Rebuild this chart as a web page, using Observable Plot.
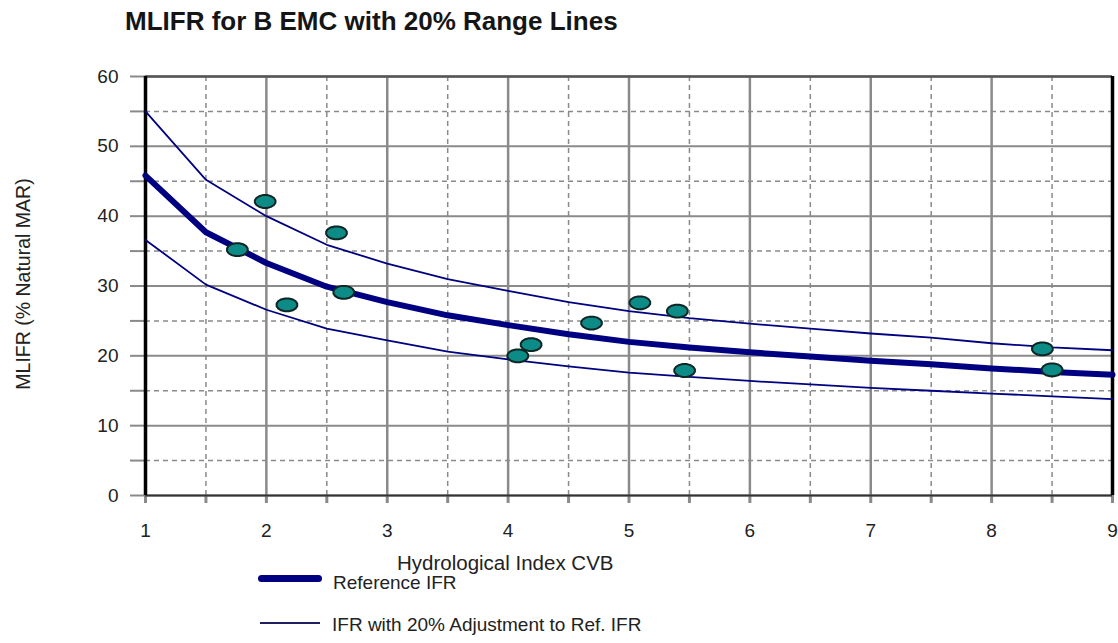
<!DOCTYPE html>
<html>
<head>
<meta charset="utf-8">
<script src="https://cdn.jsdelivr.net/npm/d3@7"></script>
<script src="https://cdn.jsdelivr.net/npm/@observablehq/plot@0.6"></script>
<style>
  body { margin: 0; background: #fff; }
  #wrap { position: relative; width: 1118px; height: 643px; overflow: hidden;
          font-family: "Liberation Sans", Arial, sans-serif; color: #222; }
  #chart { position: absolute; left: 0; top: 0; }
  #chart svg { display: block; }
  .abs { position: absolute; white-space: nowrap; }
  #title { left: 125px; top: 8px; font-size: 26px; line-height: 26px; font-weight: bold; color: #151515; }
  #xtitle { left: 397px; top: 553px; font-size: 20.5px; line-height: 19px; }
  #ytitle { left: 23px; top: 284px; font-size: 19.5px; line-height: 20px;
            transform: translate(-50%, -50%) rotate(-90deg); }
  .swatch { position: absolute; left: 258px; width: 64px; background: #000080; }
  #sw1 { top: 575px; height: 7px; border-radius: 3.5px; }
  #sw2 { top: 622px; height: 2px; left: 260px; width: 60px; background: #202060; }
  #leg1 { left: 333px; top: 574px; font-size: 19px; line-height: 17px; }
  #leg2 { left: 332px; top: 616px; font-size: 19px; line-height: 17px; }
</style>
</head>
<body>
<div id="wrap">
  <div id="chart"></div>
  <div class="abs" id="title">MLIFR for B EMC with 20% Range Lines</div>
  <div class="abs" id="xtitle">Hydrological Index CVB</div>
  <div class="abs" id="ytitle">MLIFR (% Natural MAR)</div>
  <div class="swatch" id="sw1"></div>
  <div class="abs" id="leg1">Reference IFR</div>
  <div class="swatch" id="sw2"></div>
  <div class="abs" id="leg2">IFR with 20% Adjustment to Ref. IFR</div>
</div>
<script>
// Hydrological index (CVB) breakpoints of the IFR curves
const cvb = [1, 1.5, 2, 2.5, 3, 3.5, 4, 4.5, 5, 5.5, 6, 6.5, 7, 7.5, 8, 8.5, 9];
// Reference IFR (MLIFR, % natural MAR)
const refIFR = [45.8, 37.7, 33.3, 29.9, 27.7, 25.8, 24.4, 23.1, 22.0, 21.2, 20.5, 19.9, 19.3, 18.8, 18.2, 17.7, 17.3];
// Upper and lower 20% range lines
const upperIFR = [55.0, 45.2, 40.0, 35.9, 33.2, 31.0, 29.3, 27.7, 26.4, 25.4, 24.6, 23.9, 23.2, 22.6, 21.8, 21.2, 20.8];
const lowerIFR = [36.6, 30.2, 26.6, 23.9, 22.2, 20.6, 19.5, 18.5, 17.6, 17.0, 16.4, 15.9, 15.4, 15.0, 14.6, 14.2, 13.8];

// Observed sites
const siteCVB   = [1.99, 1.76, 2.17, 2.58, 2.64, 4.08, 4.19, 4.69, 5.09, 5.40, 5.46, 8.42, 8.50];
const siteMLIFR = [42.1, 35.2, 27.3, 37.6, 29.1, 20.0, 21.6, 24.7, 27.6, 26.4, 17.9, 21.0, 18.0];

// Axis ticks and gridlines
const xMajor = [1, 2, 3, 4, 5, 6, 7, 8, 9];
const xMinor = [1.5, 2.5, 3.5, 4.5, 5.5, 6.5, 7.5, 8.5];
const yMajor = [0, 10, 20, 30, 40, 50, 60];
const yMinor = [5, 15, 25, 35, 45, 55];

const curves = cvb.map((x, i) => ({x, ref: refIFR[i], upper: upperIFR[i], lower: lowerIFR[i]}));
const sites = siteCVB.map((x, i) => ({x, y: siteMLIFR[i]}));

// Flattened oval marker for the sites
const oval = {
  draw(context, size) {
    const rx = Math.sqrt(size / Math.PI), ry = rx * 0.62, n = 16;
    for (let i = 0; i < n; ++i) {
      const a = (i / n) * 2 * Math.PI + Math.PI / n;
      const px = rx * Math.cos(a), py = ry * Math.sin(a);
      i ? context.lineTo(px, py) : context.moveTo(px, py);
    }
    context.closePath();
  }
};

const grid = "#8a8a8a";

const chart = Plot.plot({
  width: 1118,
  height: 643,
  marginTop: 76,
  marginBottom: 148,
  marginLeft: 145,
  marginRight: 6,
  x: {domain: [1, 9]},
  y: {domain: [0, 60]},
  style: {fontFamily: "'Liberation Sans', Arial, sans-serif", fontSize: "19px", background: "transparent", color: "#222"},
  marks: [
    // gridlines
    Plot.ruleX(xMinor, {stroke: grid, strokeWidth: 1.5, strokeDasharray: "5,4"}),
    Plot.ruleY(yMinor, {stroke: grid, strokeWidth: 1.5, strokeDasharray: "5,4"}),
    Plot.ruleX(xMajor, {stroke: grid, strokeWidth: 2.5}),
    Plot.ruleY(yMajor, {stroke: grid, strokeWidth: 2}),
    // axes
    Plot.axisY(yMinor.concat(yMajor), {
      tickSize: 15, tickPadding: 12, stroke: grid, strokeWidth: 2, fill: "#222",
      tickFormat: d => d % 10 === 0 ? d : "", label: null
    }),
    Plot.axisX(xMinor.concat(xMajor), {
      tickSize: 8, tickPadding: 20, stroke: grid, strokeWidth: 3, fill: "#222",
      tickFormat: d => Number.isInteger(d) ? d : "", label: null
    }),
    Plot.ruleY([60], {stroke: "#555", strokeWidth: 2.5}),
    Plot.ruleY([0], {stroke: "#333", strokeWidth: 2}),
    Plot.ruleX([1, 9], {stroke: "#000", strokeWidth: 3.5}),
    // range lines and reference curve
    Plot.line(curves, {x: "x", y: "upper", stroke: "#000080", strokeWidth: 1.8}),
    Plot.line(curves, {x: "x", y: "lower", stroke: "#000080", strokeWidth: 1.8}),
    Plot.line(curves, {x: "x", y: "ref", stroke: "#000080", strokeWidth: 6}),
    // sites
    Plot.dot(sites, {x: "x", y: "y", symbol: oval, r: 10.5, fill: "#0d8c87", stroke: "#0e2626", strokeWidth: 2})
  ]
});

document.getElementById("chart").appendChild(chart);
</script>
</body>
</html>
